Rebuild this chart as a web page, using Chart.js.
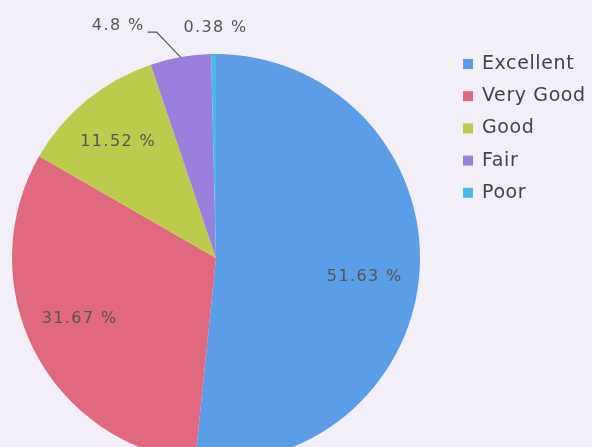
<!DOCTYPE html>
<html><head><meta charset="utf-8">
<script src="https://cdn.jsdelivr.net/npm/chart.js@4.4.1/dist/chart.umd.min.js"></script>
<style>
html,body{margin:0;padding:0;background:#f3eff8;overflow:hidden}
#wrap{width:592px;height:447px;overflow:hidden;position:relative}
#box{width:592px;height:470px;position:absolute;left:0;top:0}
</style></head><body>
<div id="wrap"><div id="box"><canvas id="c"></canvas></div></div>
<script>
const categories = ["Excellent", "Very Good", "Good", "Fair", "Poor"];
const values = [51.63, 31.67, 11.52, 4.8, 0.38];
const colors = ["#5b9de6", "#e0697f", "#bdcb4c", "#9a7fdc", "#4cb8e8"];

const labelPlugin = {
  id: 'pieLabels',
  afterDatasetsDraw(chart) {
    const ctx = chart.ctx;
    const meta = chart.getDatasetMeta(0);
    const nudgeY = [11, -8, 1];
    ctx.save();
    ctx.font = '16px "DejaVu Sans", sans-serif';
    ctx.letterSpacing = '1.4px';
    ctx.fillStyle = '#555';
    ctx.strokeStyle = '#555';
    ctx.lineWidth = 1.2;
    ctx.textBaseline = 'middle';
    meta.data.forEach((arc, i) => {
      const p = arc.getProps(['x','y','startAngle','endAngle','outerRadius'], true);
      const mid = (p.startAngle + p.endAngle) / 2;
      const txt = values[i] + ' %';
      if (values[i] >= 6) {
        const r = p.outerRadius * 0.74;
        ctx.textAlign = 'center';
        ctx.fillText(txt, p.x + Math.cos(mid) * r - 2, p.y + Math.sin(mid) * r + (nudgeY[i] || 0));
      } else if (values[i] >= 1) {
        const ex = p.x + Math.cos(mid) * p.outerRadius;
        const ey = p.y + Math.sin(mid) * p.outerRadius;
        const kx = ex - 24, ky = ey - 25;
        ctx.beginPath();
        ctx.moveTo(ex, ey); ctx.lineTo(kx, ky); ctx.lineTo(kx - 9, ky); ctx.stroke();
        ctx.textAlign = 'right';
        ctx.fillText(txt, kx - 12, ky - 6);
      } else {
        const ex = p.x + Math.cos(mid) * p.outerRadius;
        const ey = p.y + Math.sin(mid) * p.outerRadius;
        ctx.textAlign = 'center';
        ctx.fillText(txt, ex + 2, ey - 26);
      }
    });
    // legend
    ctx.font = '19px "DejaVu Sans", sans-serif';
    ctx.letterSpacing = '0.6px';
    ctx.textAlign = 'left';
    categories.forEach((c, i) => {
      const y = 64 + i * 32.2;
      ctx.fillStyle = colors[i];
      ctx.fillRect(463, y - 5, 10, 10);
      ctx.fillStyle = '#444';
      ctx.fillText(c, 482, y);
    });
    ctx.restore();
  }
};

new Chart(document.getElementById('c'), {
  type: 'pie',
  data: { labels: categories, datasets: [{ data: values, backgroundColor: colors, borderWidth: 0 }] },
  options: {
    responsive: true, maintainAspectRatio: false, animation: false,
    layout: { padding: { left: 12, top: 54, right: 172, bottom: 8 } },
    plugins: { legend: { display: false }, tooltip: { enabled: false } }
  },
  plugins: [labelPlugin]
});
</script></body></html>
